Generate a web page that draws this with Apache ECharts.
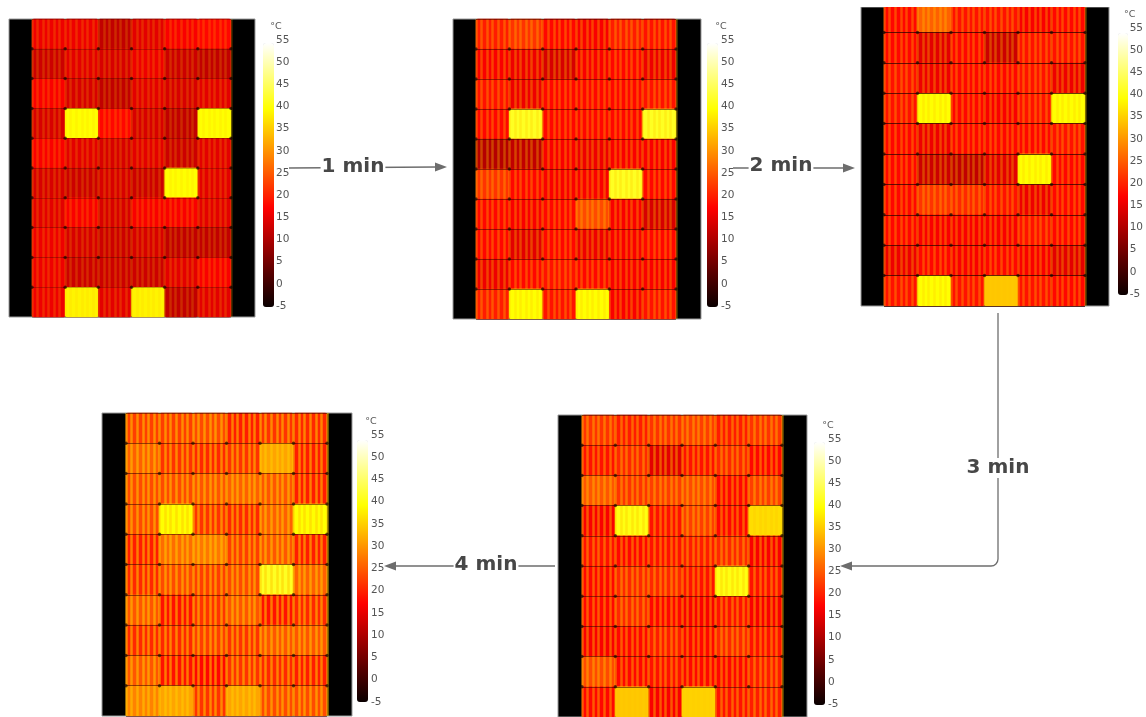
<!DOCTYPE html>
<html><head><meta charset="utf-8">
<style>html,body{margin:0;padding:0;background:#fff}#c{width:1146px;height:717px;filter:blur(0.3px)}</style>
<script src="https://cdn.jsdelivr.net/npm/echarts@6/dist/echarts.min.js"></script>
</head><body><div id="c"></div>
<script>
// Module temperatures (°C), top row first
const min0 = [[16,16,12,15,17,18],[13,15,14,16,13,12],[17,14,12,15,14,15],[14,40,18,14,12,40],[17,15,14,15,13,15],[14,13,14,13,40,15],[15,17,14,17,17,15],[16,14,13,14,12,12],[16,13,13,13,15,17],[16,39,15,39,12,15]];
const min1 = [[20,22,18,17,20,19],[17,16,14,17,18,16],[19,16,18,18,18,19],[18,42,18,18,18,42],[11,12,17,16,17,17],[22,18,17,17,42,18],[18,17,18,24,17,14],[18,15,18,16,17,18],[16,18,19,18,17,17],[20,40,19,40,17,19]];
const min2 = [[18,26,19,19,17,18],[18,15,18,13,19,19],[19,16,18,18,19,16],[19,40,18,17,19,40],[18,16,18,18,18,19],[18,13,12,15,40,18],[18,22,21,19,16,18],[18,17,17,17,19,18],[16,18,17,18,17,15],[19,40,19,35,19,18]];
const min3 = [[22,20,22,23,20,22],[19,21,15,19,21,18],[25,22,23,24,18,23],[17,41,19,23,18,37],[19,18,19,20,21,17],[18,21,21,19,41,19],[18,21,18,17,19,17],[17,18,20,18,21,19],[24,18,19,18,18,20],[18,35,17,36,19,20]];
const min4 = [[23,23,24,20,22,21],[26,22,21,22,32,20],[24,24,25,26,25,20],[24,40,22,21,26,40],[20,27,28,23,25,20],[21,24,23,24,42,26],[25,19,22,25,19,21],[21,21,23,22,25,25],[25,19,18,22,21,20],[29,32,22,32,24,24]];
const frames = [min0, min1, min2, min3, min4];
const colLabels = ['1','2','3','4','5','6'];
const rowLabels = ['1','2','3','4','5','6','7','8','9','10'];
const stepLabels = ['1 min','2 min','3 min','4 min'];
const tempMin = -5, tempMax = 55, tempStep = 5;
const hot = ['#0a0000','#550000','#aa0000','#ff0000','#ff5500','#ffaa00','#ffff00','#ffff80','#ffffff'];
const stripeAlpha = [0.2, 0.32, 0.32, 0.42, 0.55];

// Layout: outer black panel, module area, colour bar, label axis
const layout = [
 {o:[9,19,246,298],  c:[32,19,199,298],  b:[263,43,11,264], a:[275,40,266]},
 {o:[453,19,248,300],c:[476,19,200,300], b:[707,43,11,264], a:[720,40,266]},
 {o:[861,7,248,299], c:[884,2,201,304],  b:[1118,33,10,262],a:[1129,28,266]},
 {o:[558,415,249,302],c:[582,415,200,302],b:[814,442,11,263],a:[827,439,265]},
 {o:[102,413,250,303],c:[126,413,201,303],b:[357,440,11,262],a:[370,435,267]}
];
const stripes = Array.from({length:36},(_,i)=>String(i));
const cornersX = ['0'].concat(colLabels), cornersY = ['0'].concat(rowLabels);

const grid=[], xAxis=[], yAxis=[], series=[], visualMap=[], dots=[];
layout.forEach((L,p)=>{
  grid.push({left:L.o[0],top:L.o[1],width:L.o[2],height:L.o[3],show:true,backgroundColor:'#000',borderColor:'#9a9a9a',borderWidth:1,z:0});
  const g = grid.length;
  grid.push({left:L.c[0],top:L.c[1],width:L.c[2],height:L.c[3],show:false,z:1});
  const hide = {axisLine:{show:false},axisTick:{show:false},axisLabel:{show:false}};
  const xm = xAxis.length;
  xAxis.push({type:'category',gridIndex:g,data:colLabels,...hide,z:5,splitLine:{show:false}});
  const rowLine = p===2?'rgba(50,0,0,0.75)':(p===0?'rgba(60,0,0,0.3)':'rgba(60,0,0,0.55)');
  const ym = yAxis.length;
  yAxis.push({type:'category',gridIndex:g,data:rowLabels,inverse:true,...hide,z:5,splitLine:{show:true,lineStyle:{color:rowLine,width:1}}});
  // Cell stripes
  xAxis.push({type:'category',gridIndex:g,data:stripes,...hide,z:4,splitLine:{show:true,interval:0,lineStyle:{color:'rgba(255,205,0,'+stripeAlpha[p]+')',width:2.5}}});
  // Corner axes
  const xc = xAxis.length;
  xAxis.push({type:'category',gridIndex:g,data:cornersX,boundaryGap:false,...hide,splitLine:{show:false}});
  const yc = yAxis.length;
  yAxis.push({type:'category',gridIndex:g,data:cornersY,boundaryGap:false,inverse:true,...hide,splitLine:{show:false}});
  const data=[];
  frames[p].forEach((row,r)=>row.forEach((v,c)=>data.push([c,r,v])));
  series.push({type:'heatmap',xAxisIndex:xm,yAxisIndex:ym,data,z:2,silent:true,progressive:0,itemStyle:{borderWidth:0,borderRadius:2}});
  const d=[];
  for(let r=1;r<rowLabels.length;r++) for(let c=0;c<cornersX.length;c++) d.push([c,r]);
  dots.push({type:'scatter',xAxisIndex:xc,yAxisIndex:yc,data:d,symbolSize:3.5,z:6,silent:true,itemStyle:{color:'rgba(25,0,0,0.8)'}});
  visualMap.push({type:'continuous',seriesIndex:p,min:tempMin,max:tempMax,left:L.b[0],top:L.b[1],itemWidth:L.b[2],itemHeight:L.b[3],
    orient:'vertical',padding:0,calculable:false,hoverLink:false,showLabel:false,text:['',''],inRange:{color:hot}});
  // Label axis for the colour bar
  const lg = grid.length;
  grid.push({left:L.a[0],top:L.a[1],width:1,height:L.a[2],show:false});
  xAxis.push({type:'category',gridIndex:lg,data:['t'],show:false});
  yAxis.push({type:'value',gridIndex:lg,min:tempMin,max:tempMax,interval:tempStep,position:'right',
    axisLine:{show:false},axisTick:{show:false},splitLine:{show:false},
    axisLabel:{show:true,color:'#555',fontSize:10.5,fontFamily:'"DejaVu Sans"',margin:0,align:'left',showMinLabel:true,showMaxLabel:true},
    name:'°C',nameLocation:'end',nameGap:8,nameTextStyle:{color:'#555',fontSize:9.5,fontFamily:'"DejaVu Sans"',align:'center'}});
});
series.push(...dots);

const grey='#6d6d6d';
const line=(pts)=>({type:'polyline',shape:{points:pts},style:{stroke:grey,lineWidth:1.3,fill:null},z:20,silent:true});
const head=(pts)=>({type:'polygon',shape:{points:pts},style:{fill:grey},z:21,silent:true});
const tag=(t,x,y)=>({type:'text',x,y,z:22,silent:true,style:{text:t,fill:'#474747',font:'bold 20px "DejaVu Sans", sans-serif',align:'center',verticalAlign:'middle',backgroundColor:'#fff',padding:[0,1]}});
const graphic=[
 {type:'rect',shape:{x:861,y:0,width:248,height:7},style:{fill:'#fff'},z:10,silent:true},
 line([[289,168],[437,167]]), head([[447,167],[435,162.5],[435,171.5]]), tag(stepLabels[0],353,167),
 line([[733,168],[845,168]]), head([[855,168],[843,163.5],[843,172.5]]), tag(stepLabels[1],781,166),
 line([[998,313],[998,559]]),
 {type:'arc',shape:{cx:991,cy:559,r:7,startAngle:0,endAngle:Math.PI/2,clockwise:true},style:{stroke:grey,lineWidth:1.3,fill:null},z:20,silent:true},
 line([[991,566],[850,566]]),
 head([[840,566],[852,561.5],[852,570.5]]), tag(stepLabels[2],998,468),
 line([[555,566],[394,566]]), head([[384,566],[396,561.5],[396,570.5]]), tag(stepLabels[3],486,565)
];

const chart=echarts.init(document.getElementById('c'),null,{renderer:'canvas'});
chart.setOption({animation:false,backgroundColor:'#fff',tooltip:{show:false},grid,xAxis,yAxis,visualMap,series,graphic});
</script></body></html>
